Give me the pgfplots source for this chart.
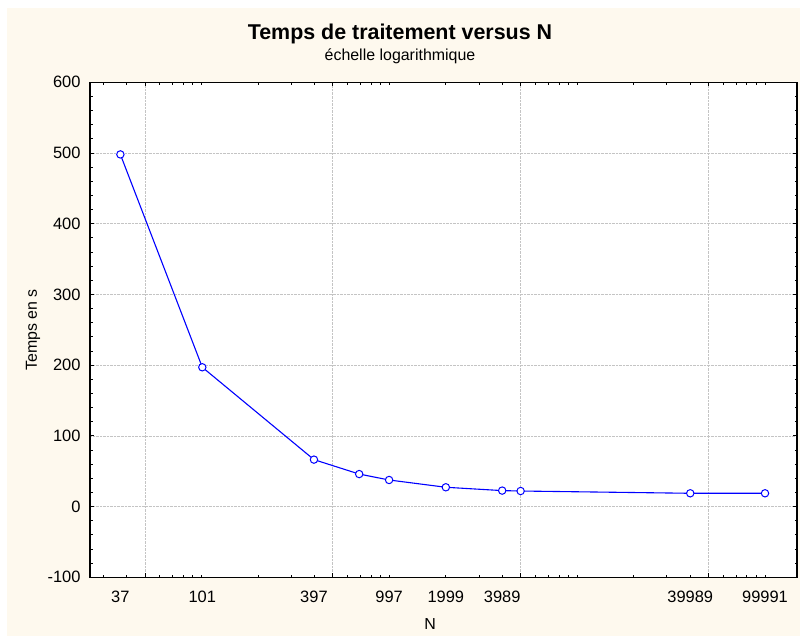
\documentclass[border=0pt]{standalone}
\usepackage{fontspec}
\setmainfont{Liberation Sans}
\usepackage{pgfplots}
\pgfplotsset{compat=1.18}
\definecolor{cream}{HTML}{FEF9EE}
\definecolor{gridgray}{HTML}{C4C4C4}
\begin{document}
\begin{tikzpicture}[x=1bp,y=1bp]
\fill[white] (0,0) rectangle (800,636);
\fill[cream] (7,0) rectangle (800,628);
\begin{axis}[
  at={(90bp,58.7bp)}, anchor=south west,
  scale only axis, width=707bp, height=495bp,
  xmode=log, xmin=25.5, xmax=148000,
  ymin=-100, ymax=600,
  axis background/.style={fill=white},
  axis line style={line width=1.1bp},
  xtick={50,500,5000,50000}, xticklabels={},
  minor xtick={30,40,60,70,80,90,100,200,300,400,600,700,800,900,1000,2000,3000,4000,6000,7000,8000,9000,10000,20000,30000,40000,60000,70000,80000,90000,100000},
  extra x ticks={37,101,397,997,1999,3989,39989,99991},
  extra x tick labels={37,101,397,997,1999,3989,39989,99991},
  extra x tick style={grid=none, major tick length=0pt},
  ytick={-100,0,...,600}, minor y tick num=4,
  grid=major, grid style={densely dotted, gridgray, line width=0.6bp},
  major tick length=4bp, minor tick length=2.5bp,
  tick style={black, line width=0.8bp},
  tick align=inside,
  /pgf/number format/assume math mode=true,
  ticklabel style={font=\fontsize{16.5}{18}\selectfont},
  yticklabel style={inner sep=0pt, xshift=-9.3bp},
  xticklabel style={inner sep=0pt, yshift=-14bp},
]
\addplot[blue, line width=1.1bp, mark=*, mark size=3.7bp,
  mark options={fill=white, draw=blue, line width=1bp}] coordinates {
  (37,498) (101,197) (397,66.4) (691,46) (997,37.6) (1999,27.3)
  (3989,22.6) (4999,22) (39989,18.8) (99991,18.8)};
\end{axis}
\node[font=\fontsize{21.5}{25}\selectfont\bfseries] at (400,602) {Temps de traitement versus N};
\node[font=\fontsize{16}{19}\selectfont] at (400,580) {échelle logarithmique};
\node[rotate=90, font=\fontsize{16}{19}\selectfont] at (33,306) {Temps en s};
\node[font=\fontsize{16}{19}\selectfont] at (430,12) {N};
\end{tikzpicture}
\end{document}
